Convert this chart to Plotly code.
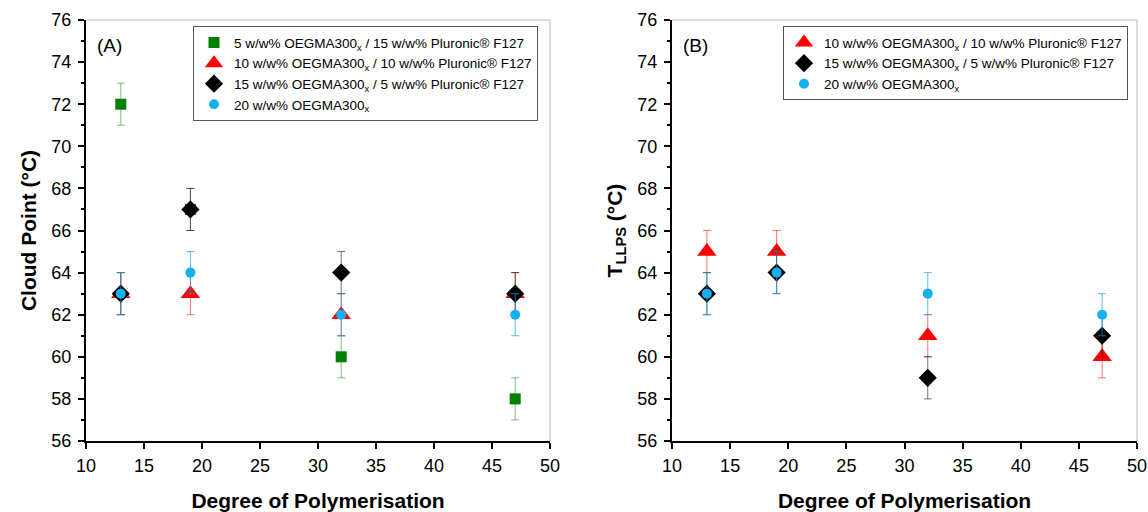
import plotly.graph_objects as go

dp = [13, 19, 32, 47]

# Panel A: cloud point
a_green = [72, 67, 60, 58]
a_red = [63, 63, 62, 63]
a_black = [63, 67, 64, 63]
a_blue = [63, 64, 62, 62]
a_err = [1, 1, 1, 1]

# Panel B: T_LLPS
b_red = [65, 65, 61, 60]
b_black = [63, 64, 59, 61]
b_blue = [63, 64, 63, 62]
b_err = [1, 1, 1, 1]

names = {
    "green": "5 w/w% OEGMA300<sub>x</sub> / 15 w/w% Pluronic® F127",
    "red": "10 w/w% OEGMA300<sub>x</sub> / 10 w/w% Pluronic® F127",
    "black": "15 w/w% OEGMA300<sub>x</sub> / 5 w/w% Pluronic® F127",
    "blue": "20 w/w% OEGMA300<sub>x</sub>",
}
style = {
    "green": dict(color="#008000", symbol="square", size=11, err="rgba(0,128,0,0.5)"),
    "red": dict(color="#FF0000", symbol="triangle-up", size=17, err="rgba(255,0,0,0.55)"),
    "black": dict(color="#000000", symbol="diamond", size=14, err="rgba(0,0,0,0.55)"),
    "blue": dict(color="#14B1EE", symbol="circle", size=10, err="rgba(20,160,230,0.7)"),
}

fig = go.Figure()

def add(key, y, err, xa, ya, legend):
    s = style[key]
    fig.add_trace(go.Scatter(
        x=dp, y=y, mode="markers", name=names[key],
        marker=dict(color=s["color"], symbol=s["symbol"], size=s["size"], line=dict(width=0)),
        error_y=dict(type="data", array=err, color=s["err"], thickness=1, width=4),
        xaxis=xa, yaxis=ya, legend=legend,
    ))

add("green", a_green, a_err, "x", "y", "legend")
add("red", a_red, a_err, "x", "y", "legend")
add("black", a_black, a_err, "x", "y", "legend")
add("blue", a_blue, a_err, "x", "y", "legend")

add("red", b_red, b_err, "x2", "y2", "legend2")
add("black", b_black, b_err, "x2", "y2", "legend2")
add("blue", b_blue, b_err, "x2", "y2", "legend2")

W, H = 1148, 512
FAM = "Arial, Liberation Sans, sans-serif"
axfont = dict(family=FAM, size=18, color="#000")
titlefont = dict(family=FAM, size=21, color="#000")

def xaxis(domain):
    return dict(domain=domain, range=[10, 50], dtick=5, tick0=10, showgrid=False, zeroline=False,
                showline=True, linecolor="#000", linewidth=2, ticks="outside", ticklen=6,
                tickwidth=2, tickcolor="#000", tickfont=axfont, ticklabelstandoff=1,
                automargin=False,
                title=dict(text="<b>Degree of Polymerisation</b>", font=titlefont, standoff=30))

def yaxis(anchor, title):
    return dict(anchor=anchor, domain=[0, 1], range=[56, 76], dtick=2, tick0=56, showgrid=False,
                zeroline=False, showline=True, linecolor="#000", linewidth=2, ticks="outside",
                ticklen=6, tickwidth=2, tickcolor="#000", tickfont=axfont, ticklabelstandoff=3,
                automargin=False,
                minor=dict(dtick=1, ticks="outside", ticklen=3, tickwidth=2, tickcolor="#000"),
                title=dict(text=title, font=titlefont, standoff=9))

legfont = dict(family=FAM, size=13.5, color="#000")

fig.update_layout(
    width=W, height=H,
    margin=dict(l=0, r=0, t=20, b=71),
    paper_bgcolor="white", plot_bgcolor="white",
    xaxis=dict(**xaxis([86 / W, 550 / W]), anchor="y"),
    yaxis=yaxis("x", "<b>Cloud Point (°C)</b>"),
    xaxis2=dict(**xaxis([672 / W, 1137 / W]), anchor="y2"),
    yaxis2=yaxis("x2", "<b>T<sub>LLPS</sub> (°C)</b>"),
    legend=dict(x=193 / W, y=0.985, xanchor="left", yanchor="top", bordercolor="#555",
                borderwidth=1, font=legfont, bgcolor="white", tracegroupgap=0,
                itemwidth=30),
    legend2=dict(x=783 / W, y=0.985, xanchor="left", yanchor="top", bordercolor="#555",
                 borderwidth=1, font=legfont, bgcolor="white", tracegroupgap=0,
                 itemwidth=30),
    showlegend=True,
    shapes=[
        dict(type="line", xref="x domain", yref="y domain", x0=0, x1=1, y0=1, y1=1,
             line=dict(color="#BBBBBB", width=1)),
        dict(type="line", xref="x domain", yref="y domain", x0=1, x1=1, y0=0, y1=1,
             line=dict(color="#BBBBBB", width=1)),
        dict(type="line", xref="x2 domain", yref="y2 domain", x0=0, x1=1, y0=1, y1=1,
             line=dict(color="#BBBBBB", width=1)),
        dict(type="line", xref="x2 domain", yref="y2 domain", x0=1, x1=1, y0=0, y1=1,
             line=dict(color="#BBBBBB", width=1)),
    ],
    annotations=[
        dict(text="(A)", xref="x domain", yref="y domain", x=0.02, y=0.94, xanchor="left",
             yanchor="middle", showarrow=False, font=dict(family=FAM, size=19, color="#000")),
        dict(text="(B)", xref="x2 domain", yref="y2 domain", x=0.02, y=0.94, xanchor="left",
             yanchor="middle", showarrow=False, font=dict(family=FAM, size=19, color="#000")),
    ],
)

fig.write_html("out.html")
